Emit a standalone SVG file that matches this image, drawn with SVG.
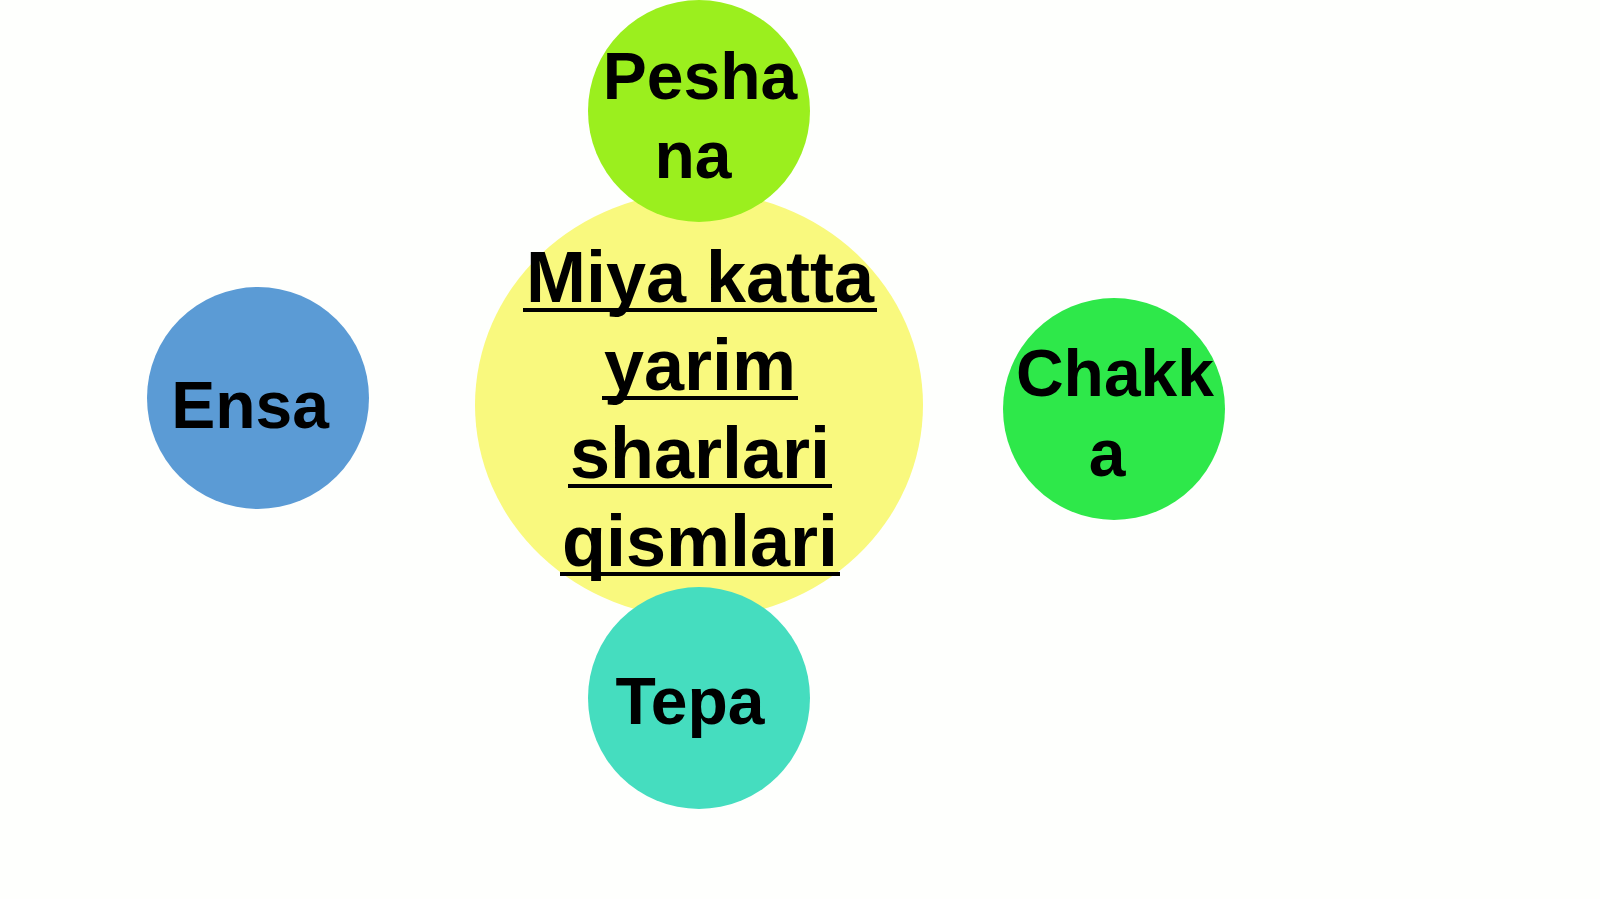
<svg xmlns="http://www.w3.org/2000/svg" width="1600" height="899" viewBox="0 0 1600 899">
<style>
.t{font-family:"Liberation Sans",Arial,sans-serif;font-weight:bold;fill:#000;text-anchor:middle}
.s{font-size:66px}
.c{font-size:72px}
.u{stroke:#000;stroke-width:4}
</style>
<rect width="1600" height="899" fill="#fefffd"/>
<g id="center">
<ellipse cx="699" cy="405" rx="224" ry="213" fill="#f9f97e"/>
</g>
<g id="peshana">
<circle cx="699" cy="111" r="111" fill="#9bef1e"/>
<text class="t s" x="700" y="99">Pesha</text>
<text class="t s" x="693" y="178">na</text>
</g>
<g id="tepa">
<circle cx="699" cy="698" r="111" fill="#45ddbf"/>
<text class="t s" x="690" y="724">Tepa</text>
</g>
<g id="ensa">
<circle cx="258" cy="398" r="111" fill="#5b9bd5"/>
<text class="t s" x="250" y="428">Ensa</text>
</g>
<g id="chakka">
<circle cx="1114" cy="409" r="111" fill="#2ee84a"/>
<text class="t s" x="1115" y="396">Chakk</text>
<text class="t s" x="1107" y="476">a</text>
</g>
<g id="center-label">
<text class="t c" x="700" y="302">Miya katta</text>
<text class="t c" x="700" y="390">yarim</text>
<text class="t c" x="700" y="478">sharlari</text>
<text class="t c" x="700" y="566">qismlari</text>
<line class="u" x1="523" y1="310" x2="877" y2="310"/>
<line class="u" x1="602" y1="398" x2="798" y2="398"/>
<line class="u" x1="568" y1="486" x2="832" y2="486"/>
<line class="u" x1="560" y1="574" x2="840" y2="574"/>
</g>
<g id="connectors"></g>
</svg>
